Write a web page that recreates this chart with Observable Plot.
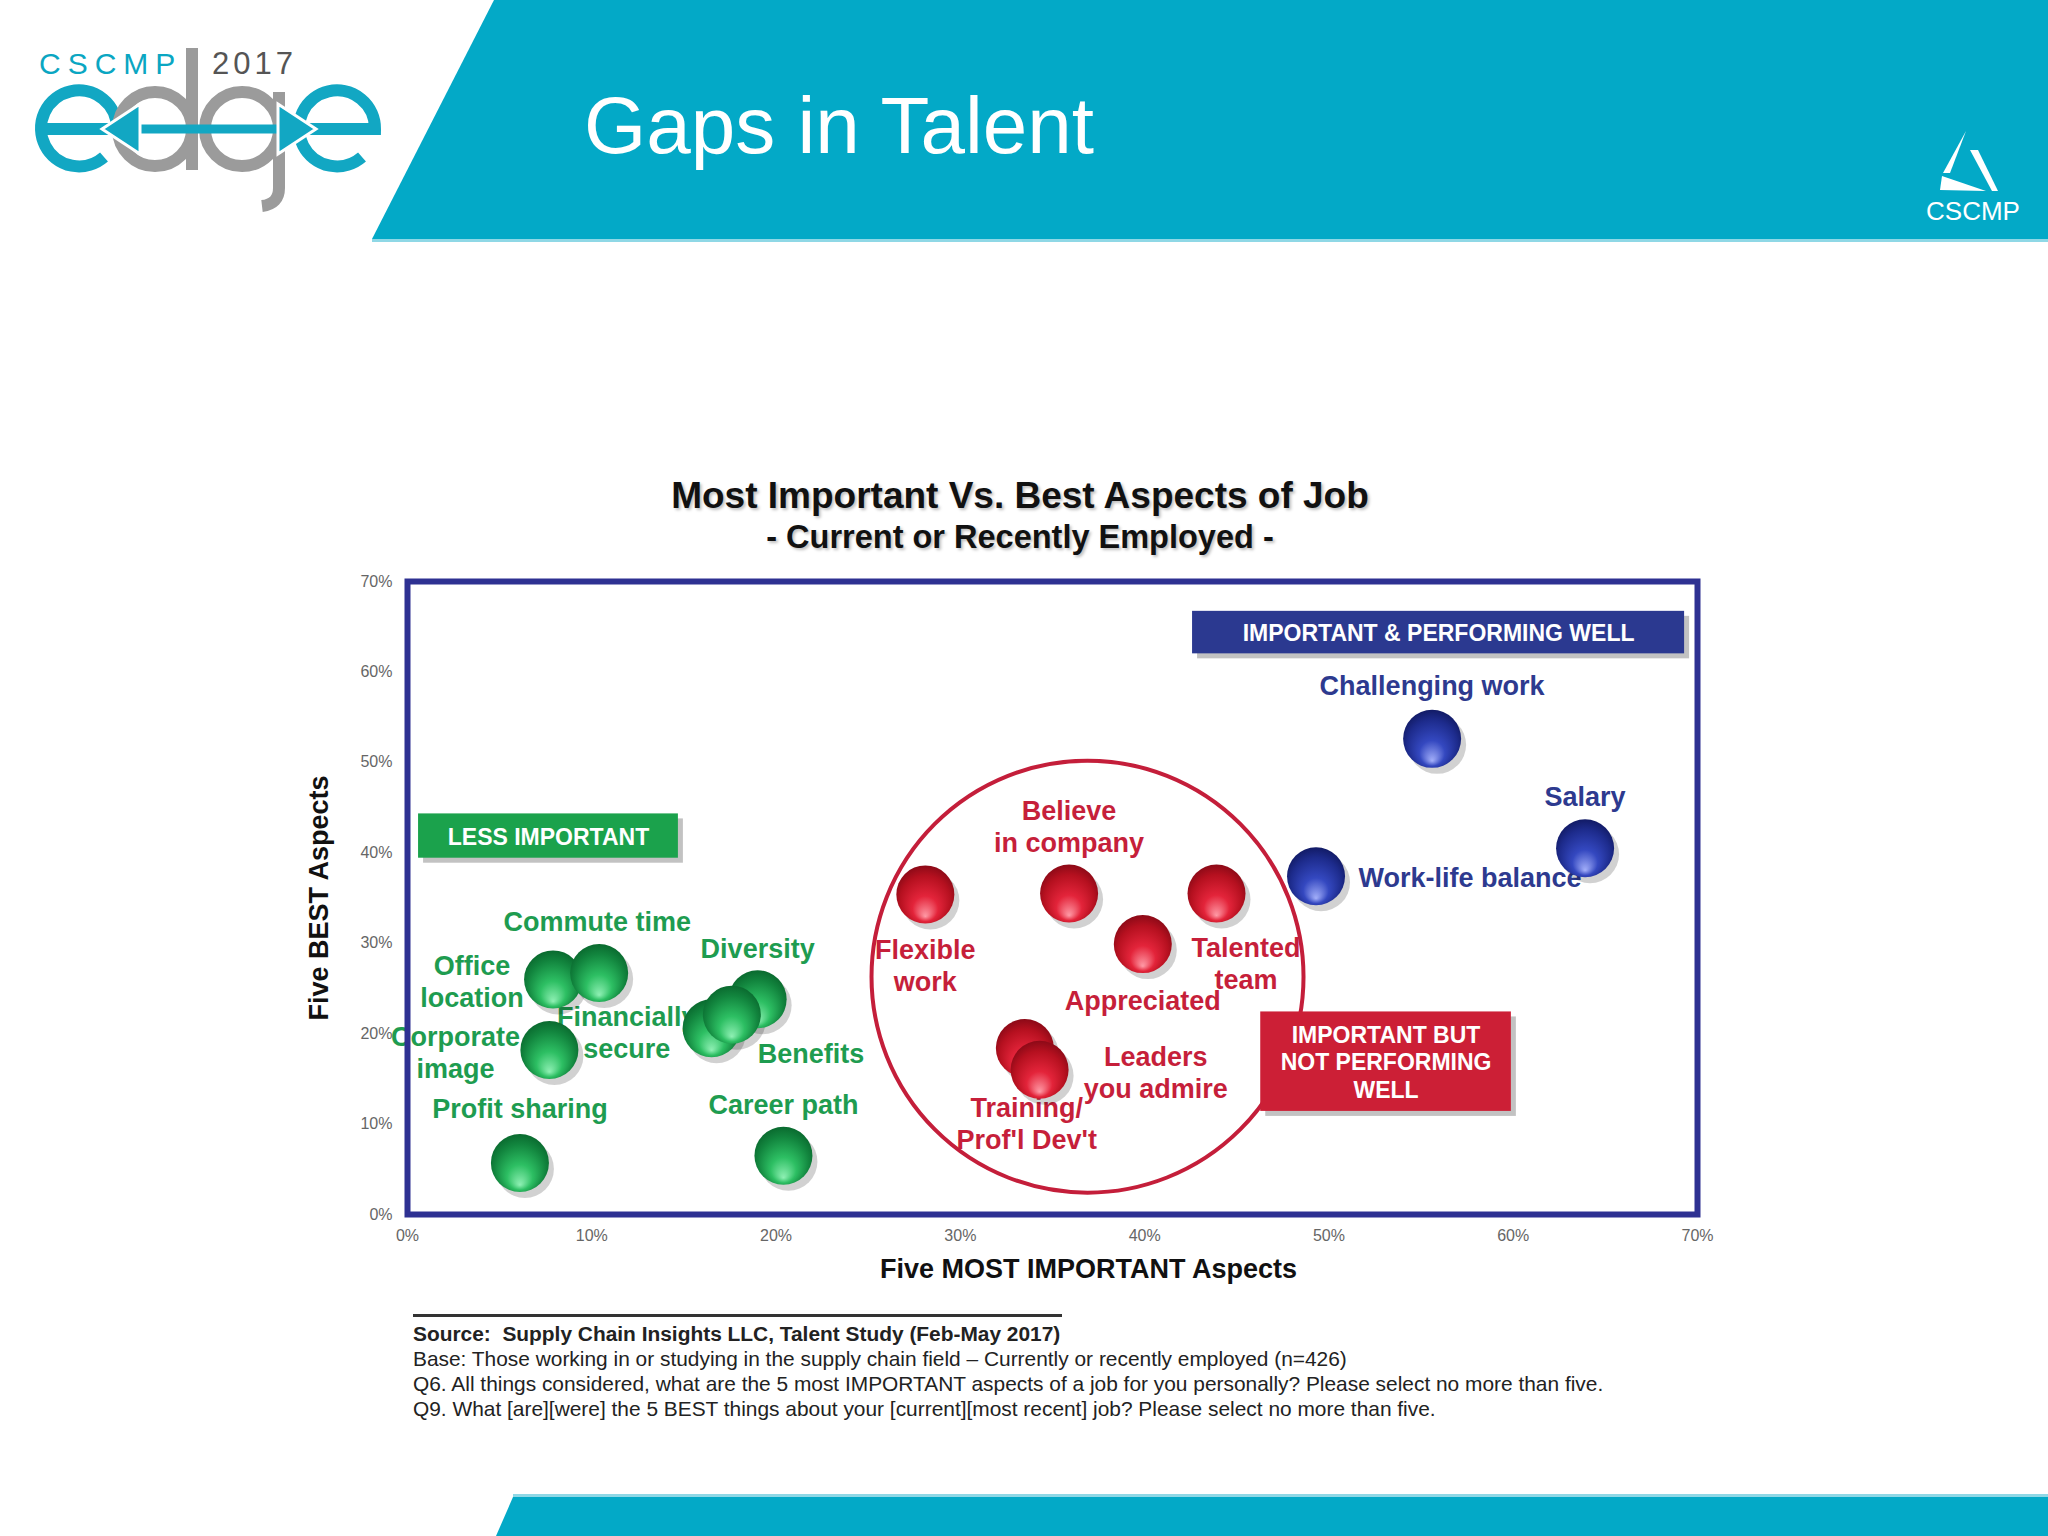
<!DOCTYPE html>
<html><head><meta charset="utf-8">
<script src="https://cdn.jsdelivr.net/npm/d3@7"></script>
<script src="https://cdn.jsdelivr.net/npm/@observablehq/plot@0.6"></script>
<style>
body{margin:0;width:2048px;height:1536px;position:relative;overflow:hidden;background:#fff;font-family:"Liberation Sans",Arial,sans-serif}
.abs{position:absolute}
.ctitle{left:0;width:2040px;text-align:center;font-weight:bold;color:#111;text-shadow:2px 2px 3px rgba(0,0,0,0.25)}
#notes{left:413px;top:1314px;color:#222;font-family:"Liberation Sans",Arial,sans-serif;font-size:20.9px;line-height:25px}
#notes .rule{width:649px;height:3px;background:#333;margin-bottom:4px}
</style></head><body>
<svg class="abs" style="left:0;top:0" width="2048" height="1536">
  <defs>
    <radialGradient id="gGreen" cx="0.5" cy="0.55" r="0.55" fx="0.5" fy="0.88">
      <stop offset="0" stop-color="#8ff0b4"/><stop offset="0.4" stop-color="#2dbf63"/><stop offset="0.8" stop-color="#12853e"/><stop offset="1" stop-color="#0a6a2f"/>
    </radialGradient>
    <radialGradient id="gRed" cx="0.5" cy="0.55" r="0.55" fx="0.5" fy="0.88">
      <stop offset="0" stop-color="#ff9aa6"/><stop offset="0.4" stop-color="#e3243a"/><stop offset="0.8" stop-color="#b5101f"/><stop offset="1" stop-color="#8c0a17"/>
    </radialGradient>
    <radialGradient id="gBlue" cx="0.5" cy="0.55" r="0.55" fx="0.5" fy="0.88">
      <stop offset="0" stop-color="#a3affa"/><stop offset="0.4" stop-color="#3448c0"/><stop offset="0.8" stop-color="#1d2b8c"/><stop offset="1" stop-color="#121b66"/>
    </radialGradient>
  </defs>
  <!-- header banner -->
  <polygon points="494,0 2048,0 2048,239 372,239" fill="#03a9c7"/>
  <line x1="372" y1="240.5" x2="2048" y2="240.5" stroke="#8fd8e6" stroke-width="3"/>
  <text x="584" y="153" font-size="80" fill="#fff" font-family="Liberation Sans, Arial, sans-serif">Gaps in Talent</text>
  <!-- left logo -->
  <text x="39" y="74" font-size="30" fill="#0aa6c2" letter-spacing="7" font-family="Liberation Sans, Arial, sans-serif">CSCMP</text>
  <text x="212" y="74" font-size="31" fill="#555" letter-spacing="4" font-family="Liberation Sans, Arial, sans-serif">2017</text>
  <g fill="none" stroke-width="12">
    <path d="M 40,129 H 117 A 38 38 0 1 0 104,157" stroke="#12a7c3"/>
    <circle cx="155" cy="129" r="37" stroke="#9b9b9b"/>
    <line x1="192" y1="48" x2="192" y2="170" stroke="#9b9b9b"/>
    <circle cx="242" cy="129" r="37" stroke="#9b9b9b"/>
    <path d="M 279,92 V 188 Q 279,204 262,206" stroke="#9b9b9b"/>
    <path d="M 298,129 H 375 A 38 38 0 1 0 362,157" stroke="#12a7c3"/>
  </g>
  <line x1="118" y1="129" x2="300" y2="129" stroke="#12a7c3" stroke-width="9"/>
  <polygon points="102,129 140,104 140,154" fill="#12a7c3" stroke="#fff" stroke-width="3"/>
  <polygon points="316,129 278,104 278,154" fill="#12a7c3" stroke="#fff" stroke-width="3"/>
  <!-- right logo -->
  <polygon points="1966,131 1943,173 1950,173" fill="#fff"/>
  <polygon points="1970,150 1978,150 1998,191 1992,191" fill="#fff"/>
  <polygon points="1942,176 1940,190 1986,191" fill="#fff"/>
  <text x="1973" y="220" font-size="26" fill="#fff" text-anchor="middle" font-family="Liberation Sans, Arial, sans-serif">CSCMP</text>
  <!-- footer band -->
  <line x1="513" y1="1495.5" x2="2048" y2="1495.5" stroke="#8fd8e6" stroke-width="3"/>
  <polygon points="513,1497 2048,1497 2048,1536 496,1536" fill="#03a9c7"/>
</svg>

<div class="abs ctitle" style="top:475px;font-size:37px">Most Important Vs. Best Aspects of Job</div>
<div class="abs ctitle" style="top:519px;font-size:32.5px">- Current or Recently Employed -</div>
<div id="chart" class="abs" style="left:0;top:570px"></div>
<div id="notes" class="abs">
  <div class="rule"></div>
  <div style="font-weight:bold">Source:&nbsp; Supply Chain Insights LLC, Talent Study (Feb-May 2017)</div>
  <div>Base: Those working in or studying in the supply chain field – Currently or recently employed (n=426)</div>
  <div>Q6. All things considered, what are the 5 most IMPORTANT aspects of a job for you personally? Please select no more than five.</div>
  <div>Q9. What [are][were] the 5 BEST things about your [current][most recent] job? Please select no more than five.</div>
</div>

<script>
// ---- data ----
const aspects = ["Profit sharing","Office location","Commute time","Corporate image","Financially secure","Diversity","Benefits","Career path",
  "Flexible work","Believe in company","Talented team","Appreciated","Leaders you admire","Training/Prof'l Dev't",
  "Work-life balance","Challenging work","Salary"];
const mostImportant = [6.1, 7.9, 10.4, 7.7, 16.5, 19.0, 17.6, 20.4, 28.1, 35.9, 43.9, 39.9, 33.5, 34.3, 49.3, 55.6, 63.9];
const bestAspects   = [5.7, 26.0, 26.7, 18.2, 20.6, 23.8, 22.1, 6.5, 35.4, 35.5, 35.5, 29.9, 18.4, 16.0, 37.4, 52.6, 40.5];
const quadrant = ["less","less","less","less","less","less","less","less",
  "notWell","notWell","notWell","notWell","notWell","notWell","well","well","well"];

// label text and anchor positions (annotation, in data units)
const labelText = ["Profit sharing","Office\nlocation","Commute time","Corporate\nimage","Financially\nsecure","Diversity","Benefits","Career path",
  "Flexible\nwork","Believe\nin company","Talented\nteam","Appreciated","Leaders\nyou admire","Training/\nProf'l Dev't",
  "Work-life balance","Challenging work","Salary"];
const labelX = [6.1, 3.5, 10.3, 2.6, 11.9, 19.0, 21.9, 20.4, 28.1, 35.9, 45.5, 39.9, 40.6, 33.6, 51.6, 55.6, 63.9];
const labelY = [11.8, 25.8, 32.5, 18.0, 20.2, 29.5, 17.9, 12.2, 27.6, 43.0, 27.8, 23.7, 15.8, 10.1, 37.4, 58.6, 46.3];
const labelAlign = ["middle","middle","middle","middle","middle","middle","middle","middle","middle","middle","middle","middle","middle","middle","start","middle","middle"];

// quadrant callout boxes
const boxText = ["IMPORTANT & PERFORMING WELL","LESS IMPORTANT","IMPORTANT BUT\nNOT PERFORMING\nWELL"];
const boxGroup = ["well","less","notWell"];
const boxX1 = [42.6, 0.6, 46.3];
const boxX2 = [69.3, 14.7, 59.9];
const boxY1 = [62.0, 39.4, 11.4];
const boxY2 = [66.7, 44.3, 22.4];

// the highlight circle around the "not performing well" group
const focusCircle = [{x: 36.9, y: 26.3}];

const xTicks = [0, 10, 20, 30, 40, 50, 60, 70];
const yTicks = [0, 10, 20, 30, 40, 50, 60, 70];
const xTitle = "Five MOST IMPORTANT Aspects";
const yTitle = "Five BEST Aspects";

const colors = {less: "#1e9c50", notWell: "#c61f3a", well: "#2d3a8f"};
const boxColors = {less: "#1ba24c", notWell: "#cc1f36", well: "#2b3990"};
const grads = {less: "url(#gGreen)", notWell: "url(#gRed)", well: "url(#gBlue)"};

const points = aspects.map((a, i) => ({aspect: a, x: mostImportant[i], y: bestAspects[i], group: quadrant[i],
  label: labelText[i], lx: labelX[i], ly: labelY[i], align: labelAlign[i]}));
const boxes = boxText.map((t, i) => ({text: t, group: boxGroup[i], x1: boxX1[i], x2: boxX2[i], y1: boxY1[i], y2: boxY2[i]}));

const groups = ["less", "notWell", "well"];
const labelMarks = [];
for (const g of groups) for (const al of ["middle", "start"]) {
  labelMarks.push(Plot.text(points.filter(d => d.group === g && d.align === al), {
    x: "lx", y: "ly", text: "label", fill: colors[g], fontSize: 27, fontWeight: "bold",
    textAnchor: al, lineAnchor: "middle", lineHeight: 1.18
  }));
}
const dotMarks = [];
for (const g of groups) {
  const pts = points.filter(d => d.group === g);
  dotMarks.push(Plot.dot(pts, {x: "x", y: "y", r: 29, fill: "#000", fillOpacity: 0.18, dx: 5, dy: 6}));
  dotMarks.push(Plot.dot(pts, {x: "x", y: "y", r: 29, fill: grads[g]}));
}
const boxMarks = [];
for (const g of groups) {
  const b = boxes.filter(d => d.group === g);
  boxMarks.push(Plot.rect(b, {x1: "x1", x2: "x2", y1: "y1", y2: "y2", fill: "#777", fillOpacity: 0.45, dx: 5, dy: 5}));
  boxMarks.push(Plot.rect(b, {x1: "x1", x2: "x2", y1: "y1", y2: "y2", fill: boxColors[g]}));
  boxMarks.push(Plot.text(b, {x: d => (d.x1 + d.x2) / 2, y: d => (d.y1 + d.y2) / 2, text: "text", fill: "#fff",
    fontSize: 23, fontWeight: "bold", lineAnchor: "middle", lineHeight: 1.19}));
}

const chart = Plot.plot({
  width: 2048, height: 720,
  marginLeft: 407, marginRight: 351, marginTop: 11, marginBottom: 76,
  style: {fontFamily: "Liberation Sans, Arial, sans-serif", fontSize: "16px", color: "#666", background: "transparent", overflow: "visible"},
  x: {domain: [0, 70], ticks: xTicks, tickFormat: d => d + "%", tickSize: 0, tickPadding: 15, label: null},
  y: {domain: [0, 70], ticks: yTicks, tickFormat: d => d + "%", tickSize: 0, tickPadding: 15, label: null},
  marks: [
    ...labelMarks,
    Plot.dot(focusCircle, {x: "x", y: "y", r: 216, fill: "none", stroke: "#c41e3a", strokeWidth: 4}),
    ...boxMarks,
    ...dotMarks,
    Plot.frame({stroke: "#2e3192", strokeWidth: 6}),
    Plot.text([yTitle], {frameAnchor: "left", dx: -88, rotate: -90, text: d => d, fontSize: 27, fontWeight: "bold", fill: "#111", textAnchor: "middle", lineAnchor: "middle"}),
    Plot.text([xTitle], {frameAnchor: "bottom", dx: 36, dy: 55, text: d => d, fontSize: 27, fontWeight: "bold", fill: "#111", textAnchor: "middle", lineAnchor: "middle"})
  ]
});
document.getElementById("chart").appendChild(chart);
</script>
</body></html>
